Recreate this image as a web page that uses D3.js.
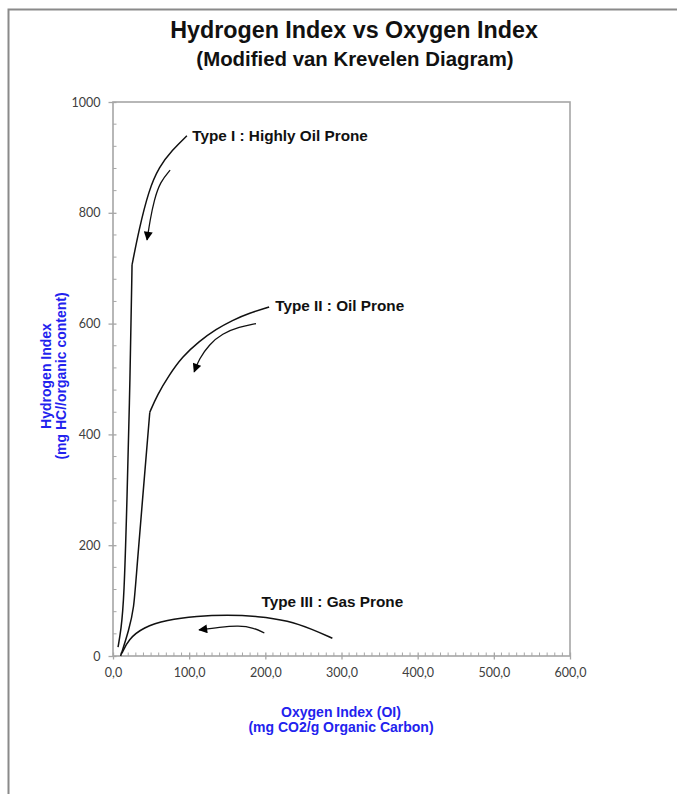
<!DOCTYPE html>
<html>
<head>
<meta charset="utf-8">
<script src="https://cdn.jsdelivr.net/npm/d3@7"></script>
<style>
  html, body { margin: 0; padding: 0; background: #fff; }
  svg { display: block; }
</style>
</head>
<body>
<div id="chart"></div>
<script>
// ── Data ────────────────────────────────────────────────────────────────────

const xTicks = [0, 100, 200, 300, 400, 500, 600];
const yTicks = [0, 200, 400, 600, 800, 1000];

// Type I : steep lower limb, kink near HI 700, then curving up to the right
const typeILower = [[6.6, 16], [10.5, 47], [14.5, 101], [18.4, 282], [22.4, 498], [25, 706]];
const typeIUpper = [[25, 706], [34, 769], [47, 841], [60.5, 883], [77.6, 913], [97, 939]];

// Type II : lower limb to kink near HI 440, then bending over to the right
const typeIILower = [[10, 0], [21, 47], [27.6, 88], [30, 137], [48.3, 440]];
const typeIIUpper = [[48.3, 440], [58, 471], [73.7, 507], [90.8, 540], [113, 568],
                     [135.5, 590], [156.6, 606], [179, 619], [205, 630]];

// Type III : low flat arc
const typeIII = [[11.8, 5], [20, 30], [40, 52], [70, 65], [110, 72], [150, 74],
                 [190, 72], [230, 64], [262, 48], [288, 32]];

// Maturation arrows (drawn from start to the arrow tip)
const arrowI = [[75, 877], [62, 856], [54, 823], [48.7, 787], [44.7, 751]];
const arrowII = [[187.7, 600], [165.8, 594], [143.4, 582], [126, 562], [113, 536], [106.6, 513]];
const arrowIII = [[198.7, 41.5], [185, 51], [165, 55], [140, 52], [113, 47]];

// Curve labels and their anchor points (OI, HI)
const labelText = ['Type I : Highly Oil Prone', 'Type II : Oil Prone', 'Type III : Gas Prone'];
const labelPos = [[104, 940], [213, 633], [195, 99]];

// ── Layout ──────────────────────────────────────────────────────────────────

const W = 677, H = 794;
const plot = { left: 113, right: 570, top: 102, bottom: 656 };
const blue = '#2222ee';
const frameGrey = '#a6a6a6';

const svg = d3.select('#chart').append('svg')
  .attr('width', W).attr('height', H)
  .attr('viewBox', `0 0 ${W} ${H}`);

// outer page border (left & top visible)
svg.append('path')
  .attr('d', `M8.5,${H + 5} V9.5 H${W + 5}`)
  .attr('fill', 'none')
  .attr('stroke', '#8a8a8a')
  .attr('stroke-width', 2);

const x = d3.scaleLinear().domain([0, 600]).range([plot.left, plot.right]);
const y = d3.scaleLinear().domain([0, 1000]).range([plot.bottom, plot.top]);

const commaFmt = d3.formatLocale({ decimal: ',', thousands: '.', grouping: [3], currency: ['', ''] }).format('.1f');

// ── Titles ──────────────────────────────────────────────────────────────────

const boldFont = '"Liberation Sans", Arial, sans-serif';

svg.append('text')
  .attr('x', 354).attr('y', 38)
  .attr('text-anchor', 'middle')
  .attr('font-family', boldFont)
  .attr('font-weight', 'bold').attr('font-size', 23.3)
  .attr('fill', '#111')
  .text('Hydrogen Index vs Oxygen Index');

svg.append('text')
  .attr('x', 355).attr('y', 66)
  .attr('text-anchor', 'middle')
  .attr('font-family', boldFont)
  .attr('font-weight', 'bold').attr('font-size', 20.4)
  .attr('fill', '#111')
  .text('(Modified van Krevelen Diagram)');

// ── Plot frame ──────────────────────────────────────────────────────────────

svg.append('rect')
  .attr('x', plot.left).attr('y', plot.top)
  .attr('width', plot.right - plot.left).attr('height', plot.bottom - plot.top)
  .attr('fill', 'none')
  .attr('stroke', frameGrey)
  .attr('stroke-width', 1.6);

// ── Axes ────────────────────────────────────────────────────────────────────

const tickFont = 'Lato, "Open Sans", sans-serif';

// x minor ticks (every 10, upward)
const gx = svg.append('g');
gx.selectAll('.minor')
  .data(d3.range(10, 600, 10).filter((v) => v % 100 !== 0))
  .join('line')
  .attr('x1', (d) => x(d)).attr('x2', (d) => x(d))
  .attr('y1', plot.bottom).attr('y2', plot.bottom - 3.5)
  .attr('stroke', frameGrey).attr('stroke-width', 1);

const xAxis = d3.axisBottom(x).tickValues(xTicks).tickFormat(commaFmt).tickSize(3.5).tickPadding(9);
gx.append('g')
  .attr('transform', `translate(0,${plot.bottom})`)
  .call(xAxis)
  .call((g) => g.select('.domain').remove())
  .call((g) => g.selectAll('line').attr('stroke', frameGrey).attr('stroke-width', 1.3).attr('y1', -3.5))
  .call((g) => g.selectAll('text')
    .attr('font-family', tickFont).attr('font-size', 12.5)
    .attr('fill', '#404040'));

// y minor ticks (every 40, inward)
const gy = svg.append('g');
gy.selectAll('.minor')
  .data(d3.range(40, 1000, 40).filter((v) => v % 200 !== 0))
  .join('line')
  .attr('x1', plot.left).attr('x2', plot.left + 3.5)
  .attr('y1', (d) => y(d)).attr('y2', (d) => y(d))
  .attr('stroke', frameGrey).attr('stroke-width', 1);

const yAxis = d3.axisLeft(y).tickValues(yTicks).tickFormat(d3.format('d')).tickSize(4.5).tickPadding(8);
gy.append('g')
  .attr('transform', `translate(${plot.left},0)`)
  .call(yAxis)
  .call((g) => g.select('.domain').remove())
  .call((g) => g.selectAll('line').attr('stroke', frameGrey).attr('stroke-width', 1.3).attr('x1', 3.5))
  .call((g) => g.selectAll('text')
    .attr('font-family', tickFont).attr('font-size', 12.5)
    .attr('fill', '#404040'));

// ── Axis titles ─────────────────────────────────────────────────────────────

svg.append('text')
  .attr('x', 341).attr('y', 717)
  .attr('text-anchor', 'middle')
  .attr('font-family', boldFont).attr('font-weight', 'bold').attr('font-size', 14)
  .attr('fill', blue)
  .text('Oxygen Index (OI)');

svg.append('text')
  .attr('x', 341).attr('y', 732)
  .attr('text-anchor', 'middle')
  .attr('font-family', boldFont).attr('font-weight', 'bold').attr('font-size', 14)
  .attr('fill', blue)
  .text('(mg CO2/g Organic Carbon)');

svg.append('text')
  .attr('transform', 'translate(51,376) rotate(-90)')
  .attr('text-anchor', 'middle')
  .attr('font-family', boldFont).attr('font-weight', 'bold').attr('font-size', 14)
  .attr('fill', blue)
  .text('Hydrogen Index');

svg.append('text')
  .attr('transform', 'translate(66,376) rotate(-90)')
  .attr('text-anchor', 'middle')
  .attr('font-family', boldFont).attr('font-weight', 'bold').attr('font-size', 14)
  .attr('fill', blue)
  .text('(mg HC//organic content)');

// ── Curves ──────────────────────────────────────────────────────────────────

svg.append('defs').append('marker')
  .attr('id', 'head')
  .attr('viewBox', '0 0 10 10')
  .attr('refX', 9).attr('refY', 5)
  .attr('markerWidth', 10).attr('markerHeight', 9)
  .attr('markerUnits', 'userSpaceOnUse')
  .attr('orient', 'auto')
  .append('path')
  .attr('d', 'M0,0 L10,5 L0,10 Z')
  .attr('fill', '#000');

const lineGen = d3.line()
  .x((d) => x(d[0]))
  .y((d) => y(d[1]))
  .curve(d3.curveBasis);

const curves = svg.append('g')
  .attr('fill', 'none')
  .attr('stroke', '#111')
  .attr('stroke-width', 1.5);

[typeILower, typeIUpper, typeIILower, typeIIUpper, typeIII].forEach((pts) => {
  curves.append('path').attr('d', lineGen(pts));
});

[arrowI, arrowII, arrowIII].forEach((pts) => {
  curves.append('path')
    .attr('d', lineGen(pts))
    .attr('stroke-width', 1.3)
    .attr('marker-end', 'url(#head)');
});

// ── Labels ──────────────────────────────────────────────────────────────────

svg.append('g')
  .selectAll('text')
  .data(labelText)
  .join('text')
  .attr('x', (d, i) => x(labelPos[i][0]))
  .attr('y', (d, i) => y(labelPos[i][1]))
  .attr('dy', '0.35em')
  .attr('font-family', boldFont)
  .attr('font-weight', 'bold')
  .attr('font-size', 15.3)
  .attr('fill', '#111')
  .text((d) => d);
</script>
</body>
</html>
